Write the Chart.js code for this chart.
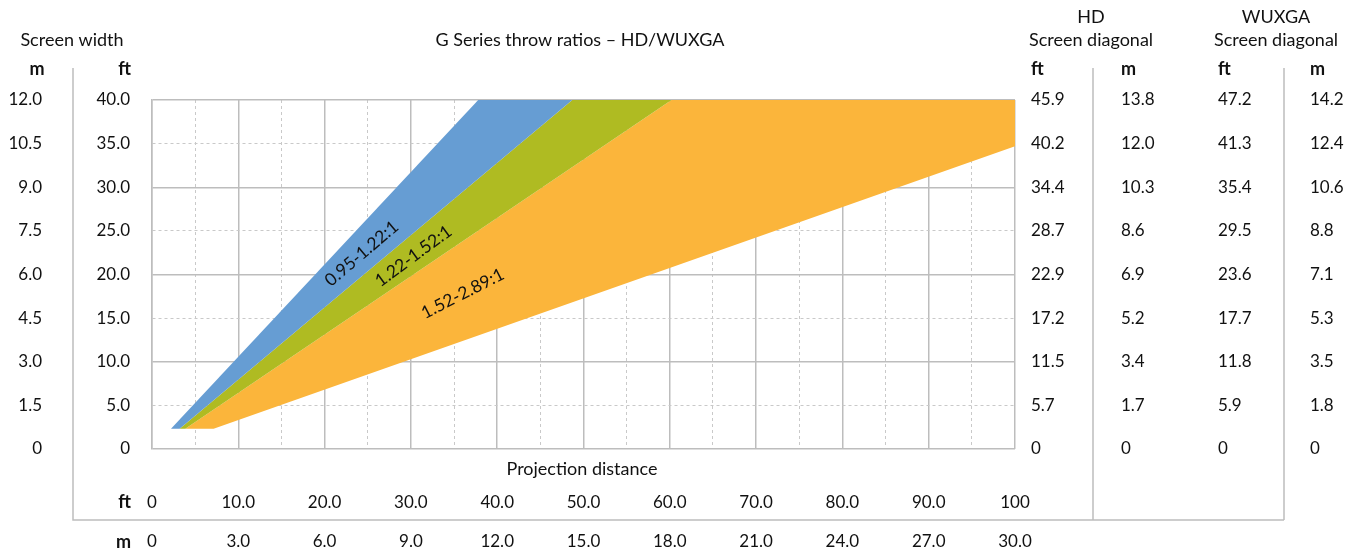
<!DOCTYPE html>
<html>
<head>
<meta charset="utf-8">
<script src="https://cdn.jsdelivr.net/npm/chart.js@4/dist/chart.umd.min.js"></script>
<style>
html,body{margin:0;padding:0;background:#fff}
#wrap{width:1358px;height:552px;position:relative}
</style>
</head>
<body>
<div id="wrap"><canvas id="throwChart"></canvas></div>
<script>

// screen width (ft) on the left axis, projection distance (ft) on the bottom axis
let widthFt = [0,5,10,15,20,25,30,35,40]
let widthM = ["0","1.5","3.0","4.5","6.0","7.5","9.0","10.5","12.0"]
let hdDiagFt = ["0","5.7","11.5","17.2","22.9","28.7","34.4","40.2","45.9"]
let hdDiagM = ["0","1.7","3.4","5.2","6.9","8.6","10.3","12.0","13.8"]
let wuxgaDiagFt = ["0","5.9","11.8","17.7","23.6","29.5","35.4","41.3","47.2"]
let wuxgaDiagM = ["0","1.8","3.5","5.3","7.1","8.8","10.6","12.4","14.2"]
let distFt = [0,10,20,30,40,50,60,70,80,90,100]
let distM = ["0","3.0","6.0","9.0","12.0","15.0","18.0","21.0","24.0","27.0","30.0"]

// lens bands, corners as [distance ft, width ft]
let bandNames = ["0.95-1.22:1","1.22-1.52:1","1.52-2.89:1"]
let bandBlue = [[2.2,2.33],[37.8,40],[48.7,40],[3.2,2.33]]
let bandGreen = [[3.2,2.33],[48.7,40],[60.2,40],[3.86,2.33]]
let bandOrange = [[3.86,2.33],[60.2,40],[100,40],[100,34.7],[7.14,2.33]]

let bandColors = ["#669dd3","#afbb22","#fbb53b"]
let labelSpots = [[24.3,22.4,-40.5],[30.3,22.1,-36.5],[36.0,17.8,-27]]

let font = "Lato, 'Open Sans', sans-serif"
let ink = "#111"
let gridSolid = "#bdbdbd"
let gridDash = "#c9c9c9"

Chart.defaults.font.family = font
Chart.defaults.font.size = 17
Chart.defaults.color = ink

function toPts(arr){
return arr.map(p=>({x:p[0],y:p[1]}))
}

let extras = {
id:"extras",
afterDraw(chart){
let c = chart.ctx
let xs = chart.scales.x
let ys = chart.scales.y
c.save()

// frame lines around the tables
c.strokeStyle = gridSolid
c.lineWidth = 1.5
c.beginPath()
c.moveTo(73,68); c.lineTo(73,520); c.lineTo(1284,520)
c.moveTo(1093,68); c.lineTo(1093,520)
c.moveTo(1284,68); c.lineTo(1284,520)
c.stroke()

c.fillStyle = ink
c.textBaseline = "middle"
c.font = "18px " + font

c.textAlign = "center"
c.fillText("Screen width",72,40)
c.fillText("G Series throw ratios \u2013 HD/WUXGA",580,40)
c.fillText("HD",1091,17)
c.fillText("Screen diagonal",1091,40)
c.fillText("WUXGA",1276,17)
c.fillText("Screen diagonal",1276,40)
c.fillText("Projection distance",582,469)

c.font = "17px " + font
// m column left
c.textAlign = "right"
widthFt.forEach((v,i)=>{
c.fillText(widthM[i],42,ys.getPixelForValue(v))
})

// right hand columns
c.textAlign = "left"
widthFt.forEach((v,i)=>{
let y = ys.getPixelForValue(v)
c.fillText(hdDiagFt[i],1031,y)
c.fillText(hdDiagM[i],1121,y)
c.fillText(wuxgaDiagFt[i],1218,y)
c.fillText(wuxgaDiagM[i],1310,y)
})

// m row bottom
c.textAlign = "center"
distFt.forEach((v,i)=>{
c.fillText(distM[i],xs.getPixelForValue(v),542)
})

// bold unit headers
c.font = "bold 18px " + font
c.textAlign = "center"
c.fillText("m",37,69)
c.textAlign = "right"
c.fillText("ft",131,69)
c.fillText("ft",131,502)
c.fillText("m",131,542)
c.textAlign = "left"
c.fillText("ft",1031,69)
c.fillText("m",1121,69)
c.fillText("ft",1218,69)
c.fillText("m",1310,69)

// band labels
c.font = "17.5px " + font
c.textAlign = "center"
bandNames.forEach((t,i)=>{
let s = labelSpots[i]
c.save()
c.translate(xs.getPixelForValue(s[0]),ys.getPixelForValue(s[1]))
c.rotate(s[2]*Math.PI/180)
c.fillText(t,0,0)
c.restore()
})

c.restore()
}
}

function band(data,i){
return {
data:toPts(data),
showLine:true,
fill:"shape",
backgroundColor:bandColors[i],
borderWidth:0,
borderColor:bandColors[i],
pointRadius:0,
tension:0
}
}

new Chart(document.getElementById("throwChart"),{
type:"scatter",
data:{
datasets:[band(bandBlue,0),band(bandGreen,1),band(bandOrange,2)]
},
options:{
responsive:true,
maintainAspectRatio:false,
animation:false,
layout:{padding:{left:0,top:100,right:343,bottom:0}},
plugins:{legend:{display:false},tooltip:{enabled:false}},
scales:{
x:{
type:"linear",
min:0,max:100,
z:1,
afterFit(s){ s.height = 103 },
ticks:{
stepSize:5,
padding:43,
maxRotation:0,
autoSkip:false,
callback:v=> v%10 ? "" : (v==0 ? "0" : v==100 ? "100" : v.toFixed(1))
},
grid:{
drawTicks:false,
color:ctx=> ctx.tick && ctx.tick.value%10 ? gridDash : gridSolid,
lineWidth:ctx=> ctx.tick && ctx.tick.value%10 ? 1 : 1.5
},
border:{display:false,dash:ctx=> ctx.tick && ctx.tick.value%10 ? [3,3] : []}
},
y:{
type:"linear",
min:0,max:40,
z:1,
afterFit(s){ s.width = 152 },
ticks:{
stepSize:5,
padding:22,
callback:v=> v==0 ? "0" : v.toFixed(1)
},
grid:{
drawTicks:false,
color:ctx=> ctx.tick && ctx.tick.value%10 ? gridDash : gridSolid,
lineWidth:ctx=> ctx.tick && ctx.tick.value%10 ? 1 : 1.5
},
border:{display:true,color:gridSolid,width:1.5,dash:ctx=> ctx.tick && ctx.tick.value%10 ? [3,3] : []}
}
}
},
plugins:[extras]
})

</script>
</body>
</html>
